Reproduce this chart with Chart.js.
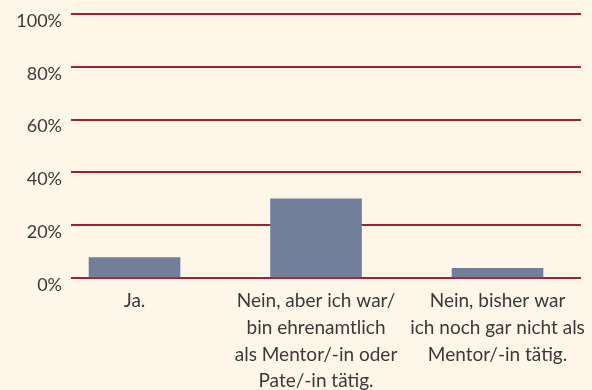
<!DOCTYPE html>
<html>
<head>
<meta charset="utf-8">
<script src="https://cdn.jsdelivr.net/npm/chart.js@4"></script>
<style>
  html, body { margin: 0; padding: 0; background: #fef6e8; }
  #wrap { width: 592px; height: 390px; position: relative; }
</style>
</head>
<body>
<div id="wrap"><canvas id="barChart"></canvas></div>
<script>
const categories = [
  ['Ja.'],
  ['Nein, aber ich war/', 'bin ehrenamtlich', 'als Mentor/-in oder', 'Pate/-in tätig.'],
  ['Nein, bisher war', 'ich noch gar nicht als', 'Mentor/-in tätig.']
];
const shares = [7.7, 30, 3.7];
const yTicks = [0, 20, 40, 60, 80, 100];

const textColor = '#3a3a3a';
const gridColor = '#9b2335';
const barColor = '#717f99';

document.addEventListener('DOMContentLoaded', () => {
  chartInit();
});

function chartInit() {
  const canvas = document.getElementById('barChart');

  const chartBarOptions = {
    type: 'bar',
    data: {
      datasets: [
        {
          data: shares.map((v, i) => ({ x: i, y: v })),
          backgroundColor: barColor,
          barThickness: 91,
        }
      ]
    },
    options: {
      responsive: true,
      maintainAspectRatio: false,
      animation: false,
      layout: {
        padding: { top: 14, right: 11, left: 0, bottom: 0 }
      },
      scales: {
        x: {
          type: 'linear',
          offset: false,
          min: -0.35,
          max: 2.46,
          grid: { display: false },
          border: { display: false },
          afterBuildTicks: (axis) => {
            axis.ticks = categories.map((_, i) => ({ value: i }));
          },
          afterFit: (axis) => {
            axis.height = 112;
            axis.paddingLeft = 0;
            axis.paddingRight = 0;
          },
          ticks: {
            color: textColor,
            autoSkip: false,
            maxRotation: 0,
            padding: 2,
            font: { family: 'Lato', size: 19, lineHeight: 1.4 },
            callback: (value) => categories[value] || ''
          }
        },
        y: {
          min: 0,
          max: 100,
          afterBuildTicks: (axis) => {
            axis.ticks = yTicks.map((v) => ({ value: v }));
          },
          afterFit: (axis) => {
            axis.width = 71;
            axis.paddingTop = 0;
            axis.paddingBottom = 0;
          },
          grid: {
            color: gridColor,
            lineWidth: 2,
            drawTicks: false,
          },
          border: { display: false },
          ticks: {
            color: textColor,
            padding: 9,
            labelOffset: 7,
            font: { family: 'Lato', size: 18 },
            callback: (value) => value + '%'
          }
        }
      },
      plugins: {
        legend: { display: false },
        tooltip: { enabled: false }
      }
    },
  };

  new Chart(canvas, chartBarOptions);
}
</script>
</body>
</html>
